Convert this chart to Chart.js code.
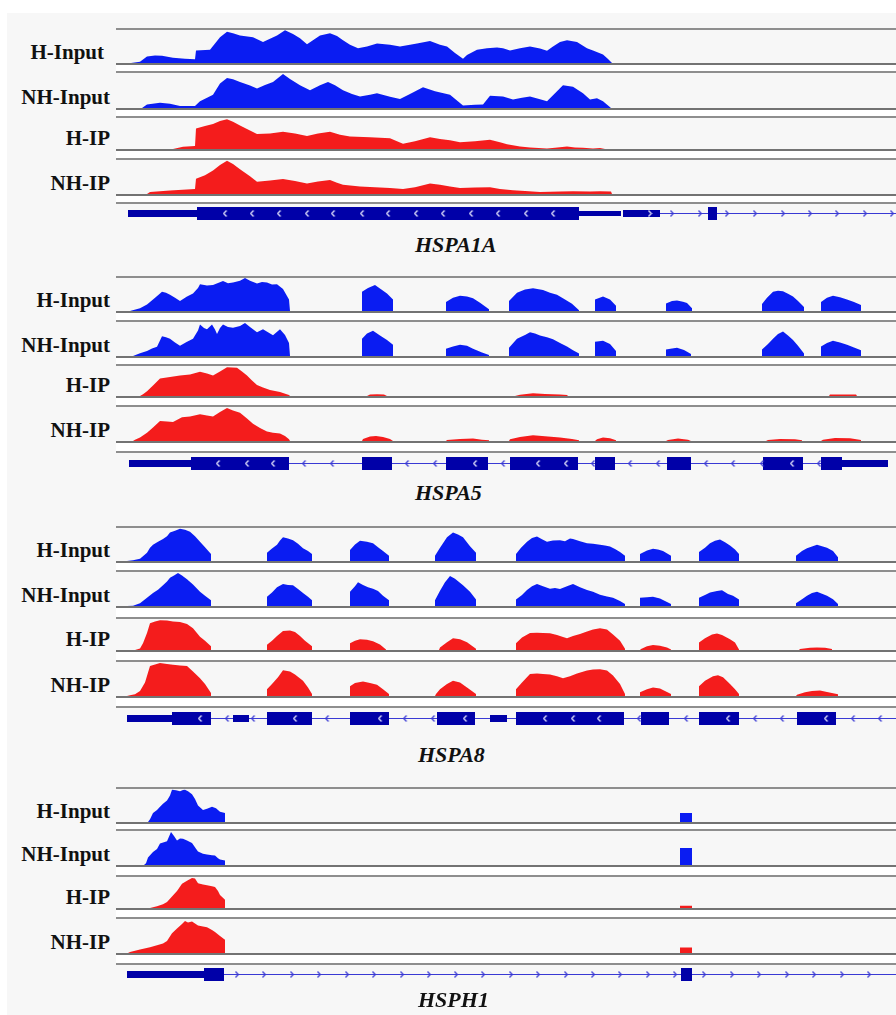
<!DOCTYPE html>
<html><head><meta charset="utf-8">
<script src="https://cdn.jsdelivr.net/npm/chart.js@4.4.1/dist/chart.umd.min.js"></script>
<style>
html,body{margin:0;padding:0;background:#fff;}
#page{position:relative;width:896px;height:1015px;overflow:hidden;background:#fff;}
#bg{position:absolute;left:7px;top:13px;width:889px;height:1002px;background:#f7f7f7;}
.track{position:absolute;left:116px;width:780px;box-sizing:border-box;border-top:2px solid #8e8e8e;border-bottom:2px solid #737373;background:#f7f7f7;}
.gap{position:absolute;left:116px;width:780px;background:#fff;}
.hline{position:absolute;left:116px;width:780px;height:2px;background:#8e8e8e;}
.lbl{position:absolute;font:bold 21px "Liberation Serif","Times New Roman",serif;color:#111;white-space:nowrap;line-height:21px;}
.gname{position:absolute;font:italic bold 22px "Liberation Serif","Times New Roman",serif;color:#111;white-space:nowrap;line-height:22px;}
canvas{position:absolute;display:block;}
</style></head><body><div id="page"><div id="bg"></div></div>
<script>
// ---------- labels ----------
const trackNames = ['H-Input', 'NH-Input', 'H-IP', 'NH-IP'];
const geneNames = ['HSPA1A', 'HSPA5', 'HSPA8', 'HSPH1'];

// ---------- coverage (x = genomic position in view units 116..896, y = % of track scale) ----------
const HSPA1A_H_Input = [[131,0],[140,4],[147,20],[155,23],[162,22],[173,16],[185,13],[195,11],[196,38],[210,40],[220,78],[227,95],[233,90],[240,83],[253,78],[263,64],[277,83],[285,99],[293,88],[300,75],[307,57],[320,83],[330,90],[337,82],[343,69],[350,55],[358,45],[367,50],[377,59],[390,55],[400,50],[410,55],[417,59],[430,67],[440,55],[447,50],[455,30],[463,13],[467,24],[477,40],[487,45],[497,47],[503,45],[510,38],[520,45],[530,50],[540,44],[547,37],[553,50],[560,64],[567,69],[577,64],[587,45],[593,38],[603,26],[608,12],[612,0]];
const HSPA1A_NH_Input = [[142,0],[147,10],[160,15],[170,12],[180,6],[195,6],[200,19],[213,38],[220,70],[227,86],[233,82],[240,74],[250,64],[257,56],[265,66],[273,74],[283,97],[290,83],[300,65],[310,51],[320,65],[328,74],[335,65],[343,51],[352,40],[360,33],[370,38],[377,42],[390,32],[400,26],[410,40],[423,59],[435,48],[450,38],[463,7],[475,9],[483,10],[490,35],[503,33],[513,24],[522,29],[530,33],[540,25],[547,19],[558,51],[563,65],[573,61],[583,42],[590,24],[597,28],[603,19],[611,0]];
const HSPA1A_H_IP = [[173,0],[183,7],[195,10],[196,66],[205,74],[213,81],[220,90],[227,96],[233,88],[240,76],[250,60],[257,48],[270,50],[283,56],[295,50],[307,42],[318,50],[330,56],[340,46],[350,40],[370,38],[390,35],[397,25],[403,17],[415,25],[430,38],[440,32],[450,28],[460,22],[475,25],[490,30],[500,22],[507,15],[520,8],[530,5],[547,2],[555,4],[567,8],[575,5],[583,4],[593,2],[600,3],[605,0]];
const HSPA1A_NH_IP = [[147,0],[150,6],[170,10],[195,15],[196,45],[205,55],[213,69],[220,85],[227,98],[233,88],[240,73],[250,52],[257,36],[270,40],[283,44],[295,38],[307,31],[318,37],[330,41],[337,33],[343,27],[360,22],[375,20],[390,18],[403,15],[415,20],[430,31],[440,27],[450,22],[460,18],[475,19],[490,20],[500,15],[513,11],[525,9],[540,6],[560,7],[573,8],[590,7],[600,8],[611,7],[612,0]];

const HSPA5_H_Input = [[130,0],[140,8],[147,20],[153,35],[158,48],[162,58],[166,55],[170,49],[175,40],[180,30],[187,44],[193,53],[198,70],[200,81],[207,77],[213,79],[218,85],[223,91],[228,84],[233,86],[240,92],[245,100],[250,92],[257,83],[262,88],[267,86],[272,80],[277,81],[283,67],[289,35],[290,0],
 [362,0],[362,58],[368,70],[375,79],[381,66],[387,53],[393,35],[393,0],
 [446,0],[446,27],[453,40],[460,46],[467,44],[473,39],[480,25],[489,5],[489,0],
 [509,0],[509,30],[517,55],[525,65],[533,69],[543,64],[550,55],[557,49],[565,35],[572,22],[579,2],[579,0],
 [595,0],[595,35],[603,44],[610,35],[616,16],[616,0],
 [666,0],[666,23],[672,30],[677,32],[683,28],[687,24],[692,8],[692,0],
 [762,0],[762,21],[767,40],[773,58],[778,61],[783,60],[788,52],[793,44],[798,30],[804,12],[804,0],
 [821,0],[821,27],[827,40],[833,46],[840,42],[847,35],[854,27],[861,18],[861,0]];
const HSPA5_NH_Input = [[133,0],[140,8],[147,15],[152,22],[157,27],[162,58],[166,55],[170,51],[175,40],[180,30],[187,42],[193,51],[198,75],[200,93],[204,82],[207,79],[212,93],[215,78],[217,65],[220,82],[223,93],[228,85],[233,83],[240,88],[245,97],[250,85],[257,70],[263,79],[268,70],[273,61],[280,79],[285,62],[289,38],[290,0],
 [362,0],[362,51],[367,66],[373,74],[380,60],[387,47],[393,33],[393,0],
 [446,0],[446,21],[453,28],[460,33],[467,30],[473,21],[482,10],[489,3],[489,0],
 [509,0],[509,24],[517,51],[525,62],[530,70],[535,66],[540,60],[547,55],[553,49],[560,38],[567,28],[573,17],[579,7],[579,0],
 [595,0],[595,42],[603,45],[610,35],[616,15],[616,0],
 [666,0],[666,19],[672,22],[677,24],[684,18],[691,6],[691,0],
 [762,0],[762,19],[768,35],[773,51],[778,65],[783,72],[788,60],[793,47],[798,30],[804,7],[804,0],
 [821,0],[821,28],[827,38],[833,45],[840,40],[847,33],[854,25],[861,17],[861,0]];
const HSPA5_H_IP = [[140,0],[143,6],[147,16],[153,35],[160,58],[170,63],[180,68],[190,72],[200,81],[207,75],[213,68],[220,82],[227,96],[237,94],[242,82],[247,68],[252,52],[257,37],[263,28],[270,20],[280,13],[289,3],[290,0],
 [367,0],[370,5],[377,6],[384,5],[387,0],
 [515,0],[520,4],[533,9],[545,7],[560,5],[567,3],[568,0],
 [829,0],[830,5],[856,5],[857,0]];
const HSPA5_NH_IP = [[133,0],[135,4],[140,10],[147,24],[153,40],[160,59],[167,57],[173,56],[182,70],[190,72],[200,79],[207,75],[213,72],[220,85],[227,97],[233,90],[240,83],[247,66],[253,51],[260,38],[267,28],[273,24],[280,22],[285,15],[289,5],[290,0],
 [362,0],[363,6],[370,13],[376,15],[383,12],[390,6],[393,0],
 [446,0],[447,3],[460,6],[473,7],[482,4],[489,2],[489,0],
 [509,0],[510,5],[520,12],[533,17],[545,14],[560,10],[572,6],[579,2],[579,0],
 [595,0],[597,5],[603,10],[610,8],[616,2],[616,0],
 [666,0],[668,3],[678,7],[688,4],[691,0],
 [766,0],[768,3],[780,6],[795,5],[802,2],[802,0],
 [821,0],[823,4],[835,9],[850,8],[861,3],[861,0]];

const HSPA8_H_Input = [[127,0],[133,2],[140,7],[147,25],[150,40],[153,49],[158,58],[163,67],[167,75],[170,86],[175,92],[180,98],[185,95],[190,89],[195,75],[200,58],[205,42],[211,21],[211,0],
 [267,0],[267,25],[272,38],[277,49],[280,62],[283,72],[288,68],[293,63],[298,52],[303,39],[308,30],[312,21],[312,0],
 [350,0],[350,33],[355,50],[360,61],[367,58],[373,54],[378,42],[383,30],[389,16],[389,0],
 [435,0],[435,16],[440,40],[447,72],[453,86],[458,80],[463,72],[470,45],[476,25],[476,0],
 [516,0],[516,21],[521,40],[527,58],[532,70],[537,74],[542,66],[547,58],[553,62],[560,63],[565,60],[570,68],[573,67],[580,60],[587,54],[593,52],[600,49],[605,47],[610,44],[615,36],[620,27],[625,16],[625,0],
 [640,0],[640,21],[647,32],[653,37],[658,35],[663,30],[671,16],[671,0],
 [699,0],[699,27],[705,40],[710,54],[715,61],[720,65],[725,57],[730,47],[735,35],[739,21],[739,0],
 [796,0],[796,16],[802,30],[807,39],[812,44],[817,49],[822,45],[827,40],[833,30],[838,11],[838,0]];
const HSPA8_NH_Input = [[127,0],[133,1],[140,8],[147,24],[153,38],[158,48],[163,61],[167,72],[170,83],[174,90],[178,97],[182,90],[187,79],[193,63],[200,42],[205,30],[211,17],[211,0],
 [267,0],[267,27],[272,40],[277,55],[283,65],[288,62],[293,61],[298,50],[303,38],[308,27],[312,17],[312,0],
 [350,0],[350,42],[355,58],[358,70],[363,62],[368,55],[373,51],[378,44],[383,30],[389,17],[389,0],
 [435,0],[435,17],[440,45],[445,70],[450,88],[455,80],[463,61],[470,42],[476,19],[476,0],
 [516,0],[516,19],[522,32],[527,47],[532,58],[537,65],[543,58],[550,51],[555,53],[560,50],[567,58],[573,65],[580,55],[587,47],[593,42],[600,33],[607,28],[613,24],[620,15],[625,6],[625,0],
 [640,0],[640,24],[647,26],[653,27],[660,22],[667,12],[671,6],[671,0],
 [699,0],[699,24],[705,32],[710,40],[717,44],[722,46],[728,35],[733,30],[739,19],[739,0],
 [796,0],[796,8],[802,20],[807,30],[812,38],[817,42],[822,36],[827,30],[833,20],[838,6],[838,0]];
const HSPA8_H_IP = [[135,0],[140,5],[143,22],[147,55],[150,86],[155,92],[160,96],[167,95],[173,92],[180,90],[187,84],[193,70],[200,43],[205,30],[211,12],[211,0],
 [267,0],[267,17],[272,30],[277,45],[283,61],[290,63],[295,58],[300,45],[305,30],[312,12],[312,0],
 [350,0],[350,22],[355,30],[360,35],[367,33],[373,28],[380,18],[386,2],[386,0],
 [439,0],[440,8],[447,25],[453,38],[460,35],[467,25],[476,4],[476,0],
 [516,0],[516,22],[522,40],[530,55],[537,56],[543,55],[550,54],[557,48],[563,42],[567,38],[573,45],[580,52],[587,60],[593,66],[600,70],[607,66],[613,50],[620,30],[625,4],[625,0],
 [640,0],[641,3],[647,12],[653,16],[660,14],[667,8],[671,2],[671,0],
 [699,0],[699,24],[705,38],[712,50],[717,53],[722,48],[730,35],[735,24],[739,2],[739,0],
 [799,0],[800,3],[810,7],[817,8],[825,7],[832,3],[832,0]];
const HSPA8_NH_IP = [[127,0],[130,2],[135,5],[140,15],[145,40],[150,88],[155,93],[160,97],[167,94],[173,92],[180,90],[187,88],[193,72],[200,52],[205,35],[211,9],[211,0],
 [267,0],[267,20],[272,35],[278,55],[283,76],[290,72],[295,63],[303,45],[308,25],[312,6],[312,0],
 [350,0],[350,29],[355,38],[363,43],[370,38],[377,33],[383,20],[389,6],[389,0],
 [435,0],[436,6],[440,20],[447,35],[453,45],[460,40],[467,25],[476,6],[476,0],
 [516,0],[516,20],[522,40],[530,65],[537,66],[543,65],[550,63],[557,58],[563,52],[570,58],[577,66],[587,75],[593,78],[600,79],[607,75],[613,60],[620,35],[625,6],[625,0],
 [640,0],[640,11],[647,20],[653,25],[660,22],[667,12],[671,6],[671,0],
 [699,0],[699,29],[705,45],[713,58],[718,61],[723,55],[730,35],[735,20],[739,6],[739,0],
 [796,0],[797,4],[805,11],[812,15],[820,16],[827,12],[838,5],[838,0]];

const HSPH1_H_Input = [[148,0],[150,8],[153,27],[157,36],[160,46],[163,55],[167,65],[170,80],[172,98],[176,96],[180,93],[183,97],[185,98],[188,93],[192,84],[195,70],[198,50],[203,36],[207,40],[212,46],[216,42],[220,31],[225,27],[225,0],
 [680,0],[680,27],[692,27],[692,0]];
const HSPH1_NH_Input = [[144,0],[146,5],[148,22],[153,38],[157,47],[160,63],[167,70],[171,97],[174,85],[177,72],[180,78],[183,77],[187,72],[192,65],[196,48],[198,40],[203,33],[207,31],[212,29],[215,28],[218,20],[220,16],[225,13],[225,0],
 [680,0],[680,50],[692,50],[692,0]];
const HSPH1_H_IP = [[150,0],[157,6],[163,12],[167,19],[172,37],[177,55],[182,78],[187,88],[192,97],[195,95],[198,80],[203,76],[207,73],[212,70],[215,68],[218,55],[220,42],[225,27],[225,0],
 [680,0],[680,7],[692,7],[692,0]];
const HSPH1_NH_IP = [[128,0],[130,3],[140,10],[150,17],[157,23],[163,28],[167,35],[172,58],[177,72],[182,85],[185,94],[188,90],[192,93],[195,87],[198,81],[203,78],[207,76],[212,68],[215,62],[220,50],[225,39],[225,0],
 [680,0],[680,16],[692,16],[692,0]];

// ---------- gene models: [start, end] ----------
const HSPA1A_thick = [[197,579],[708,717]];
const HSPA1A_thin = [[128,197],[623,660]];
const HSPA1A_narrow = [[579,621]];
const HSPA1A_intron = [[660,896]];
const HSPA1A_chevL_exon = [225,252,279,307,333,362,388,416,443,471,498,526,553];
const HSPA1A_chevR_exon = [650];
const HSPA1A_chevL_intron = [];
const HSPA1A_chevR_intron = [672,700,727,755,783,810,837,865,892];

const HSPA5_thick = [[191,289],[362,392],[446,488],[510,578],[595,615],[667,691],[763,803],[821,842]];
const HSPA5_thin = [[129,191],[842,888]];
const HSPA5_narrow = [];
const HSPA5_intron = [[289,821]];
const HSPA5_chevL_exon = [218,247,273,475,538,566,792];
const HSPA5_chevR_exon = [];
const HSPA5_chevL_intron = [304,332,407,435,503,593,630,658,706,733,762,819];
const HSPA5_chevR_intron = [];

const HSPA8_thick = [[172,211],[267,312],[350,389],[437,475],[516,624],[641,669],[699,739],[797,836]];
const HSPA8_thin = [[127,172],[233,249],[490,507]];
const HSPA8_narrow = [];
const HSPA8_intron = [[211,896]];
const HSPA8_chevL_exon = [200,295,380,465,545,573,599,728,826];
const HSPA8_chevR_exon = [];
const HSPA8_chevL_intron = [227,253,327,405,433,639,686,755,782,853,880];
const HSPA8_chevR_intron = [];

const HSPH1_thick = [[204,224],[681,692]];
const HSPH1_thin = [[127,204]];
const HSPH1_narrow = [];
const HSPH1_intron = [[224,896]];
const HSPH1_chevL_exon = [];
const HSPH1_chevR_exon = [];
const HSPH1_chevL_intron = [];
const HSPH1_chevR_intron = [237,264,292,319,347,374,402,429,456,483,511,538,566,593,620,648,675,704,732,759,787,814,842,869];

// ---------- assembly ----------
const panels = [
  {gene: geneNames[0], tracks: [HSPA1A_H_Input, HSPA1A_NH_Input, HSPA1A_H_IP, HSPA1A_NH_IP],
   model: {thick: HSPA1A_thick, thin: HSPA1A_thin, narrow: HSPA1A_narrow, intron: HSPA1A_intron, cLe: HSPA1A_chevL_exon, cRe: HSPA1A_chevR_exon, cLi: HSPA1A_chevL_intron, cRi: HSPA1A_chevR_intron},
   tops: [29,72,117,159], bases: [64,109,150,195], geneLine: 203, geneY: 213, labelBase: 252, labelX: 415, firstLabelRight: 104},
  {gene: geneNames[1], tracks: [HSPA5_H_Input, HSPA5_NH_Input, HSPA5_H_IP, HSPA5_NH_IP],
   model: {thick: HSPA5_thick, thin: HSPA5_thin, narrow: HSPA5_narrow, intron: HSPA5_intron, cLe: HSPA5_chevL_exon, cRe: HSPA5_chevR_exon, cLi: HSPA5_chevL_intron, cRi: HSPA5_chevR_intron},
   tops: [277,321,365,406], bases: [312,357,397,442], geneLine: 452, geneY: 463, labelBase: 500, labelX: 415, firstLabelRight: 110},
  {gene: geneNames[2], tracks: [HSPA8_H_Input, HSPA8_NH_Input, HSPA8_H_IP, HSPA8_NH_IP],
   model: {thick: HSPA8_thick, thin: HSPA8_thin, narrow: HSPA8_narrow, intron: HSPA8_intron, cLe: HSPA8_chevL_exon, cRe: HSPA8_chevR_exon, cLi: HSPA8_chevL_intron, cRi: HSPA8_chevR_intron},
   tops: [527,571,618,661], bases: [562,607,651,697], geneLine: 707, geneY: 718, labelBase: 762, labelX: 418, firstLabelRight: 110},
  {gene: geneNames[3], tracks: [HSPH1_H_Input, HSPH1_NH_Input, HSPH1_H_IP, HSPH1_NH_IP],
   model: {thick: HSPH1_thick, thin: HSPH1_thin, narrow: HSPH1_narrow, intron: HSPH1_intron, cLe: HSPH1_chevL_exon, cRe: HSPH1_chevR_exon, cLi: HSPH1_chevL_intron, cRi: HSPH1_chevR_intron},
   tops: [788,830,876,918], bases: [823,866,909,954], geneLine: 964, geneY: 974, labelBase: 1007, labelX: 418, firstLabelRight: 110}
];

const BLUE = '#0a1cf2', RED = '#f41c1c', GENE = '#0000a8', INTRON = '#3a3ad4';
const trackColors = [BLUE, BLUE, RED, RED];
const X_MIN = 116, X_MAX = 896;
const page = document.getElementById('page');

function el(tag, cls, style) {
  const e = document.createElement(tag);
  if (cls) e.className = cls;
  Object.assign(e.style, style || {});
  page.appendChild(e);
  return e;
}

const baseOpts = () => ({
  responsive: false, animation: false, events: [],
  layout: {padding: 0, autoPadding: false},
  plugins: {legend: {display: false}, tooltip: {enabled: false}, title: {display: false}},
  scales: {x: {type: 'linear', min: X_MIN, max: X_MAX, display: false}}
});

function chevron(dir, color) {
  const c = document.createElement('canvas');
  c.width = 5; c.height = 7;
  const g = c.getContext('2d');
  g.strokeStyle = color; g.lineWidth = 1.2;
  g.beginPath();
  if (dir === 'L') { g.moveTo(4, 0.5); g.lineTo(1.2, 3.5); g.lineTo(4, 6.5); }
  else { g.moveTo(1, 0.5); g.lineTo(3.8, 3.5); g.lineTo(1, 6.5); }
  g.stroke();
  return c;
}
const chevImgs = {Le: chevron('L', '#e8e8ff'), Re: chevron('R', '#e8e8ff'), Li: chevron('L', INTRON), Ri: chevron('R', INTRON)};

function segPoints(segs) {
  const out = [];
  segs.forEach((s, i) => {
    if (i > 0) out.push({x: (segs[i-1][1] + s[0]) / 2, y: null});
    out.push({x: s[0], y: 0}, {x: s[1], y: 0});
  });
  return out;
}

panels.forEach(p => {
  // tracks
  p.tracks.forEach((pts, i) => {
    const top = p.tops[i], base = p.bases[i];
    const div = el('div', 'track', {top: (top - 1) + 'px', height: (base - top + 2) + 'px'});
    const cv = document.createElement('canvas');
    cv.width = 780; cv.height = base - top - 2;
    cv.style.left = '0px'; cv.style.top = '0px';
    div.appendChild(cv);
    const opts = baseOpts();
    opts.scales.y = {min: 0, max: 100, display: false};
    new Chart(cv, {
      type: 'line',
      data: {datasets: [{data: pts.map(d => ({x: d[0], y: d[1]})), fill: 'origin',
        backgroundColor: trackColors[i], borderColor: 'rgba(0,0,0,0)', borderWidth: 0,
        pointRadius: 0, tension: 0}]},
      options: opts
    });
    // white gap below the track
    const nextTop = i < 3 ? p.tops[i + 1] : p.geneLine;
    el('div', 'gap', {top: (base + 1) + 'px', height: (nextTop - base - 2) + 'px'});
    // label
    const lab = el('div', 'lbl', {top: (base - 4 - 17.6) + 'px', right: (896 - (i === 0 ? p.firstLabelRight : 110)) + 'px'});
    lab.textContent = trackNames[i];
  });
  // gene track line
  el('div', 'hline', {top: (p.geneLine - 1) + 'px'});
  // gene model chart
  const gc = el('canvas', null, {left: X_MIN + 'px', top: (p.geneY - 15) + 'px'});
  gc.width = 780; gc.height = 31;
  const m = p.model;
  const common = {pointRadius: 0, tension: 0, fill: false, spanGaps: false, borderCapStyle: 'butt', borderColor: GENE, backgroundColor: GENE};
  const chev = (xs, img, order) => ({type: 'scatter', data: xs.map(x => ({x: x, y: 0})), pointStyle: img, pointRadius: 3, showLine: false, order: order});
  const gOpts = baseOpts();
  gOpts.scales.y = {min: -1, max: 1, display: false};
  new Chart(gc, {
    type: 'line',
    data: {datasets: [
      chev(m.cLe, chevImgs.Le, 0), chev(m.cRe, chevImgs.Re, 0),
      chev(m.cLi, chevImgs.Li, 0), chev(m.cRi, chevImgs.Ri, 0),
      Object.assign({}, common, {data: segPoints(m.thick), borderWidth: 13, order: 1}),
      Object.assign({}, common, {data: segPoints(m.thin), borderWidth: 7, order: 2}),
      Object.assign({}, common, {data: segPoints(m.narrow), borderWidth: 5, order: 2}),
      Object.assign({}, common, {data: segPoints(m.intron), borderWidth: 1, borderColor: INTRON, order: 3})
    ]},
    options: gOpts
  });
  const gl = el('div', 'gname', {left: p.labelX + 'px', top: (p.labelBase - 18.4) + 'px'});
  gl.textContent = p.gene;
});
</script>
</body></html>
